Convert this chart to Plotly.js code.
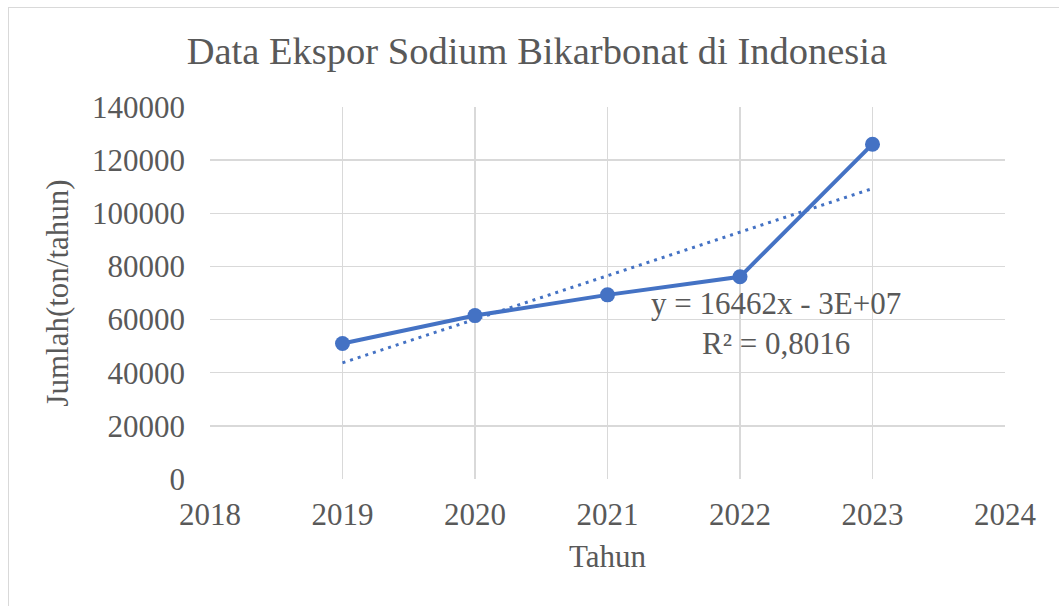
<!DOCTYPE html>
<html>
<head>
<meta charset="utf-8">
<script src="https://cdn.plot.ly/plotly-3.0.1.min.js"></script>
<style>
  html, body { margin: 0; padding: 0; background: #fff; }
  #wrap { position: relative; width: 1059px; height: 606px; overflow: hidden; }
  #frame { position: absolute; left: 8px; top: 7px; width: 1100px; height: 700px;
           border-left: 1.5px solid #d9d9d9; border-top: 1.5px solid #d9d9d9; pointer-events: none; }
  #chart { position: absolute; left: 0; top: 0; width: 1059px; height: 606px; }
</style>
</head>
<body>
<div id="wrap">
  <div id="chart"></div>
  <div id="frame"></div>
</div>
<script>
const years = [2019, 2020, 2021, 2022, 2023];
const exportValues = [51000, 61500, 69300, 76100, 126000];
const trendYears = [2019, 2023];
const trendValues = [43700, 109300];
const xTicks = [2018, 2019, 2020, 2021, 2022, 2023, 2024];
const yTicks = [0, 20000, 40000, 60000, 80000, 100000, 120000, 140000];
const titleText = 'Data Ekspor Sodium Bikarbonat di Indonesia';
const xTitle = 'Tahun';
const yTitle = 'Jumlah(ton/tahun)';
const eqText = 'y = 16462x - 3E+07<br>R² = 0,8016';

const FONT = '"Liberation Serif", "Times New Roman", serif';
const TXT = '#595959';
const BLUE = '#4472C4';
const GRID = '#d9d9d9';

const traces = [
  {
    x: trendYears, y: trendValues, type: 'scatter', mode: 'lines',
    line: { color: BLUE, width: 3, dash: '3px,5px' },
    hoverinfo: 'skip', showlegend: false
  },
  {
    x: years, y: exportValues, type: 'scatter', mode: 'lines+markers',
    line: { color: BLUE, width: 4 },
    marker: { color: BLUE, size: 15 },
    showlegend: false
  }
];

const layout = {
  width: 1059, height: 606,
  margin: { l: 210, r: 54, t: 107, b: 127 },
  paper_bgcolor: '#fff', plot_bgcolor: '#fff',
  font: { family: FONT, color: TXT, size: 31 },
  title: { text: titleText, font: { family: FONT, size: 38.5, color: TXT },
           x: 0.507, xanchor: 'center', y: 0.917, yanchor: 'middle' },
  xaxis: {
    range: [2018, 2024], tickvals: xTicks, ticktext: xTicks.map(String),
    showgrid: true, gridcolor: GRID, gridwidth: 1.5,
    zeroline: false, showline: false, ticks: '',
    ticklabelstandoff: 14,
    tickfont: { family: FONT, size: 31, color: TXT },
    title: { text: xTitle, font: { family: FONT, size: 31, color: TXT }, standoff: 14 }
  },
  yaxis: {
    range: [0, 140000], tickvals: yTicks, ticktext: yTicks.map(String),
    showgrid: true, gridcolor: GRID, gridwidth: 1.5,
    zeroline: false, showline: false, ticks: '',
    ticklabelstandoff: 24,
    tickfont: { family: FONT, size: 31, color: TXT },
    title: { text: yTitle, font: { family: FONT, size: 31, color: TXT }, standoff: 14 }
  },
  annotations: [
    { x: 2022.27, y: 58700, xref: 'x', yref: 'y', text: eqText, showarrow: false,
      align: 'center', xanchor: 'center', yanchor: 'middle',
      font: { family: FONT, size: 31, color: TXT } }
  ]
};

Plotly.newPlot('chart', traces, layout, { displayModeBar: false, staticPlot: true });
</script>
</body>
</html>
